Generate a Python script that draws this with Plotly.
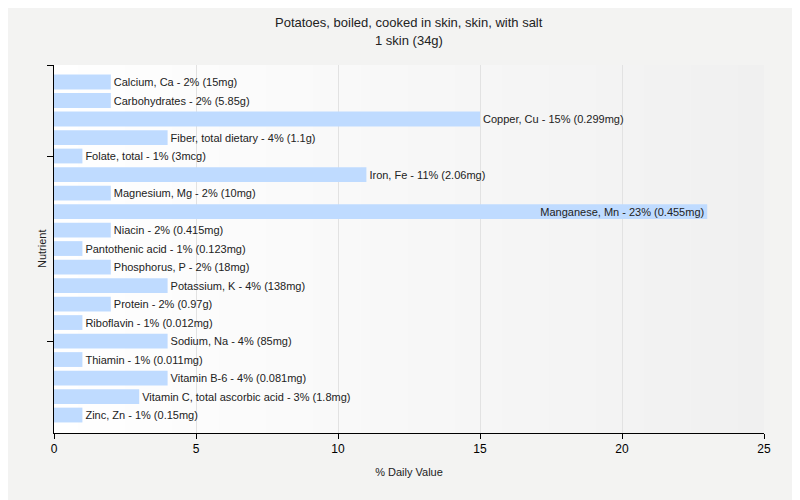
import base64, struct, zlib
import plotly.graph_objects as go

title_line1 = "Potatoes, boiled, cooked in skin, skin, with salt"
title_line2 = "1 skin (34g)"

nutrients = ["Calcium, Ca", "Carbohydrates", "Copper, Cu", "Fiber, total dietary",
             "Folate, total", "Iron, Fe", "Magnesium, Mg", "Manganese, Mn", "Niacin",
             "Pantothenic acid", "Phosphorus, P", "Potassium, K", "Protein", "Riboflavin",
             "Sodium, Na", "Thiamin", "Vitamin B-6", "Vitamin C, total ascorbic acid", "Zinc, Zn"]
percents = [2, 2, 15, 4, 1, 11, 2, 23, 2, 1, 2, 4, 2, 1, 4, 1, 4, 3, 1]
amounts = ["15mg", "5.85g", "0.299mg", "1.1g", "3mcg", "2.06mg", "10mg", "0.455mg", "0.415mg",
           "0.123mg", "18mg", "138mg", "0.97g", "0.012mg", "85mg", "0.011mg", "0.081mg",
           "1.8mg", "0.15mg"]
x_ticks = [0, 5, 10, 15, 20, 25]

labels = [f"{n} - {p}% ({a})" for n, p, a in zip(nutrients, percents, amounts)]
ypos = list(range(len(nutrients)))
# labels go outside the bar unless they would run past the axis end
positions = ["inside" if p > 18 else "outside" for p in percents]


def gradient_png(w, c0, c1):
    row = b"\x00"
    for i in range(w):
        t = i / (w - 1)
        v = [round(c0[k] + (c1[k] - c0[k]) * t) for k in range(3)]
        row += bytes(v)
    def chunk(tag, data):
        c = struct.pack(">I", len(data)) + tag + data
        return c + struct.pack(">I", zlib.crc32(tag + data) & 0xffffffff)
    png = b"\x89PNG\r\n\x1a\n"
    png += chunk(b"IHDR", struct.pack(">IIBBBBB", w, 1, 8, 2, 0, 0, 0))
    png += chunk(b"IDAT", zlib.compress(row))
    png += chunk(b"IEND", b"")
    return "data:image/png;base64," + base64.b64encode(png).decode()


FONT = "Liberation Sans, Arial, sans-serif"

fig = go.Figure()
fig.add_trace(go.Bar(
    x=percents, y=ypos, orientation="h",
    marker=dict(color="#bfdbff", line=dict(width=0)),
    width=0.8,
    text=labels, textposition=positions, insidetextanchor="end",
    constraintext="none",
    textfont=dict(family=FONT, size=11, color="#222222"),
    cliponaxis=False,
    hoverinfo="text",
))

fig.update_layout(
    width=800, height=500,
    paper_bgcolor="#f3f3f2",
    plot_bgcolor="rgba(0,0,0,0)",
    margin=dict(l=46, r=44, t=57, b=75, autoexpand=False),
    uniformtext=dict(minsize=11, mode="show"),
    font=dict(family=FONT, size=11, color="#222222"),
    showlegend=False,
    images=[dict(source=gradient_png(256, (255, 255, 255), (240, 240, 240)),
                 xref="x domain", yref="y domain", x=0, y=1, sizex=1, sizey=1,
                 xanchor="left", yanchor="top", sizing="stretch", layer="below")],
    annotations=[
        dict(text=title_line1, xref="paper", yref="paper", x=0.5, y=1.1168,
             xanchor="center", yanchor="middle", showarrow=False,
             font=dict(family=FONT, size=13, color="#222222")),
        dict(text=title_line2, xref="paper", yref="paper", x=0.5, y=1.0679,
             xanchor="center", yanchor="middle", showarrow=False,
             font=dict(family=FONT, size=13, color="#222222")),
        dict(text="Nutrient", xref="paper", yref="paper", x=-0.0169, y=0.5,
             xanchor="center", yanchor="middle", textangle=-90, showarrow=False,
             font=dict(family=FONT, size=11, color="#222222")),
    ],
)
fig.update_xaxes(
    range=[0, 25], tickvals=x_ticks, ticks="outside", ticklen=5, tickcolor="#000",
    showline=True, linecolor="#000", linewidth=1,
    showgrid=True, gridcolor="#e2e2e2", zeroline=False,
    tickfont=dict(size=12, color="#000"),
    title=dict(text="% Daily Value", font=dict(size=11, color="#222"), standoff=12),
)
fig.update_yaxes(
    range=[len(nutrients) - 0.03, -0.92],
    tickvals=[-0.92, 4, 14], ticktext=["", "", ""], ticks="outside", ticklen=6, tickcolor="#000",
    showline=True, linecolor="#000", linewidth=1,
    showgrid=False, zeroline=False,
)

fig.write_html("out.html")
